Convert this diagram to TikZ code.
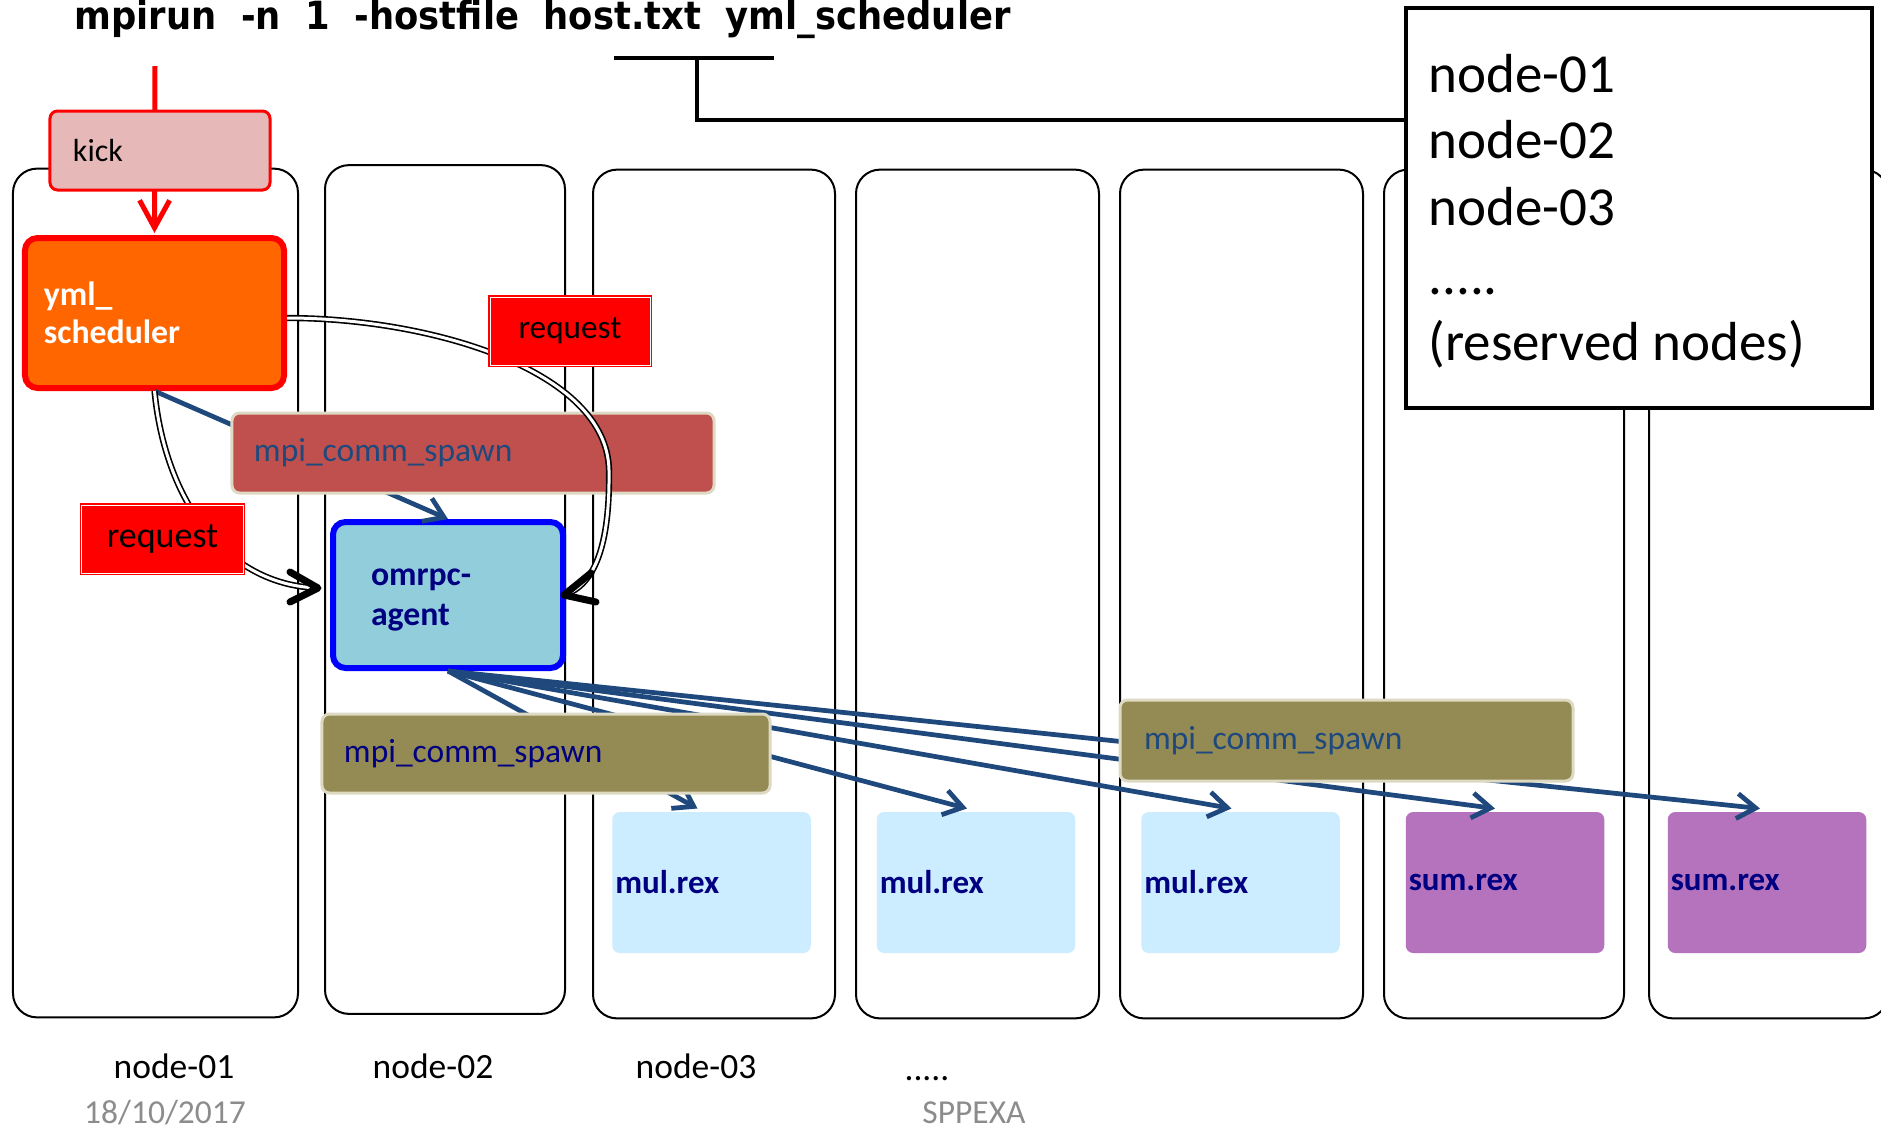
\documentclass[tikz,border=0pt]{standalone}
\usepackage{graphicx}
\usepackage{fontspec}
\setmainfont{Carlito}
\newfontfamily\titlefont{DejaVu Sans}
\usetikzlibrary{arrows.meta,calc}
\definecolor{steel}{HTML}{1F497D}
\definecolor{navytxt}{HTML}{000080}
\definecolor{kickfill}{HTML}{E6B9B8}
\definecolor{ymlfill}{HTML}{FF6600}
\definecolor{agentfill}{HTML}{92CDDC}
\definecolor{spawnred}{HTML}{C0504D}
\definecolor{spawnolive}{HTML}{948A54}
\definecolor{spawnedge}{HTML}{DDD9C3}
\definecolor{mulfill}{HTML}{CCECFF}
\definecolor{sumfill}{HTML}{B573BD}
\definecolor{footgray}{HTML}{8C8C8C}
\tikzset{
  col/.style={draw=black, line width=0.8pt, rounded corners=9.6pt, fill=white, inner sep=0pt, minimum height=339.5pt},
  kickbox/.style={fill=kickfill, draw=red, line width=1.2pt, rounded corners=3pt, minimum width=88pt, minimum height=31.6pt, inner xsep=9.2pt, text width=69.6pt, align=left, font=\fontsize{12.8}{15}\selectfont},
  ymlbox/.style={fill=ymlfill, draw=red, line width=2.4pt, rounded corners=5pt, minimum width=103.6pt, minimum height=60pt, inner xsep=7.6pt, text width=88.4pt, align=left, text=white, font=\fontsize{13.5}{15.2}\selectfont\bfseries},
  agentbox/.style={fill=agentfill, draw=blue, line width=2.4pt, rounded corners=5pt, minimum width=92pt, minimum height=58.4pt, inner sep=0pt},
  agenttext/.style={inner xsep=0pt, text width=61.6pt, align=left, text=navytxt, font=\fontsize{13.5}{15.8}\selectfont\bfseries},
  spawnbox/.style={draw=spawnedge, line width=1.2pt, rounded corners=3pt, inner ysep=0pt, align=left, font=\fontsize{13.4}{15}\selectfont},
  reqbox/.style={fill=red, draw=red, double=white, double distance=0.4pt, line width=0.5pt, minimum width=64pt, minimum height=27.2pt, inner sep=0pt, text=black},
  procbox/.style={rounded corners=3pt, minimum width=79.4pt, minimum height=56.4pt, inner xsep=1.2pt, text width=77pt, align=left, text=navytxt, font=\fontsize{13.2}{15}\selectfont\bfseries},
  bluearr/.style={draw=steel, line width=1.9pt, -{Straight Barb[length=7.5pt,width=10pt]}},
  redarr/.style={draw=red, line width=2pt, -{Straight Barb[length=11pt,width=12pt]}},
  dbl/.style={draw=black, line width=0.65pt, double=white, double distance=1.2pt},
  tipv/.style={draw=black, line width=2.8pt, line cap=round, line join=round},
  hosttext/.style={anchor=base west, inner sep=0pt, font=\fontsize{22}{26}\selectfont},
  lbl/.style={anchor=base, inner sep=0pt, font=\fontsize{14.2}{16}\selectfont},
  foot/.style={anchor=base, inner sep=0pt, text=footgray, font=\fontsize{13.4}{15}\selectfont}
}
\begin{document}
\begin{tikzpicture}[x=0.4pt,y=-0.4pt]
\useasboundingbox (0,0) rectangle (1881,1128);
\clip (0,0) rectangle (1881,1128);

% title
\node[anchor=base west, inner sep=0pt] (title) at (74,29)
  {\resizebox{374.4pt}{11.8pt}{\titlefont\fontsize{14}{16}\selectfont\bfseries mpirun\ \ -n\ \ 1\ \ -hostfile\ \ host.txt\ \ yml\_scheduler}};

% node columns
\node[col, minimum width=114pt] (c1) at (155.5,593) {};
\node[col, minimum width=96pt] (c2) at (445,589.5) {};
\node[col, minimum width=96.8pt] (c3) at (714,594) {};
\node[col, minimum width=97.2pt] (c4) at (977.5,594) {};
\node[col, minimum width=97.2pt] (c5) at (1241.5,594) {};
\node[col, minimum width=96pt] (c6) at (1504,594) {};
\node[col, minimum width=95.6pt] (c7) at (1768.5,594) {};

% host list box
\node[draw=black, line width=1.6pt, fill=white, minimum width=186.4pt, minimum height=160pt, inner sep=0pt] (host) at (1639,208) {};
\node[hosttext] (h1) at (1428,92) {node-01};
\node[hosttext] (h2) at (1428,158) {node-02};
\node[hosttext] (h3) at (1428,225) {node-03};
\node[hosttext] (h4) at (1428,294) {.....};
\node[hosttext] (h5) at (1428,360) {(reserved nodes)};

% connector from host.txt to host box
\coordinate (tl) at (614,58);
\coordinate (tr) at (774,58);
\coordinate (tm) at (697,58);
\draw[line width=1.8pt] (tl) -- (tr);
\draw[line width=1.8pt] (tm) |- ($(host.north west)+(0,114)$);

% scheduler and kick
\node[ymlbox] (yml) at (154.5,313) {yml\_\\scheduler};
\coordinate (kicktop) at (155,66);
\draw[redarr] (kicktop) -- ($(yml.north)+(0,-2)$);
\node[kickbox] (kick) at (160,150.5) {kick};

% agent
\node[agentbox] (agent) at (448,595) {};
\node[agenttext] (agentlbl) at ($(agent.center)+(0,5)$) {omrpc-\\agent};

% processes
\node[procbox, fill=mulfill] (p1) at (711.5,882.5) {mul.rex};
\node[procbox, fill=mulfill] (p2) at (976,882.5) {mul.rex};
\node[procbox, fill=mulfill] (p3) at (1240.5,882.5) {mul.rex};
\node[procbox, fill=sumfill] (p4) at (1505,882.5) {sum.rex};
\node[procbox, fill=sumfill] (p5) at (1767,882.5) {sum.rex};

% spawn arrows
\draw[bluearr] (yml.south) -- (agent.north);
\draw[bluearr] (agent.south) -- ($(p1.north)+(-14,-3)$);
\draw[bluearr] (agent.south) -- ($(p2.north)+(-9,-3)$);
\draw[bluearr] (agent.south) -- ($(p3.north)+(-9,-3)$);
\draw[bluearr] (agent.south) -- ($(p4.north)+(-10,-3)$);
\draw[bluearr] (agent.south) -- ($(p5.north)+(-7,-3)$);

% spawn labels
\node[spawnbox, fill=spawnred, minimum width=192.8pt, minimum height=32pt, inner xsep=8.8pt, text width=175.2pt, text=steel] (s1) at (473,453) {mpi\_comm\_spawn};
\node[spawnbox, fill=spawnolive, minimum width=179.2pt, minimum height=31.6pt, inner xsep=8.8pt, text width=161.6pt, text=navytxt] (s2) at (546,753.5) {mpi\_comm\_spawn};
\node[spawnbox, fill=spawnolive, minimum width=181.2pt, minimum height=32.4pt, inner xsep=9.6pt, text width=162pt, text=steel] (s3) at (1346.5,740.5) {mpi\_comm\_spawn};

% request curves
\draw[dbl] ($(yml.east)+(0,5)$) .. controls (430,318) and (607,370) .. (609,470)
  .. controls (610,545) and (595,585) .. ($(agent.east)+(-2,0)$);
\draw[tipv] ($(agent.east)+(25,-22)$) -- ($(agent.east)+(-2,0)$) -- ($(agent.east)+(30,7)$);
\draw[dbl] (yml.south) .. controls (165,500) and (225,585) .. ($(agent.west)+(-12,-7)$);
\draw[tipv] ($(agent.west)+(-40,-23)$) -- ($(agent.west)+(-12,-7)$) -- ($(agent.west)+(-40,7)$);

\node[reqbox, font=\fontsize{13.3}{15}\selectfont] (r1) at (570,331) {request};
\node[reqbox, minimum width=64.4pt, font=\fontsize{14.4}{16}\selectfont] (r2) at (162.5,539) {request};

% bottom labels
\node[lbl] (n1) at (174,1078) {node-01};
\node[lbl] (n2) at (433,1078) {node-02};
\node[lbl] (n3) at (696,1078) {node-03};
\node[lbl] (n4) at (927,1080) {.....};
\node[foot] (date) at (165,1123) {18/10/2017};
\node[foot] (conf) at (974,1123) {SPPEXA};
\end{tikzpicture}
\end{document}
